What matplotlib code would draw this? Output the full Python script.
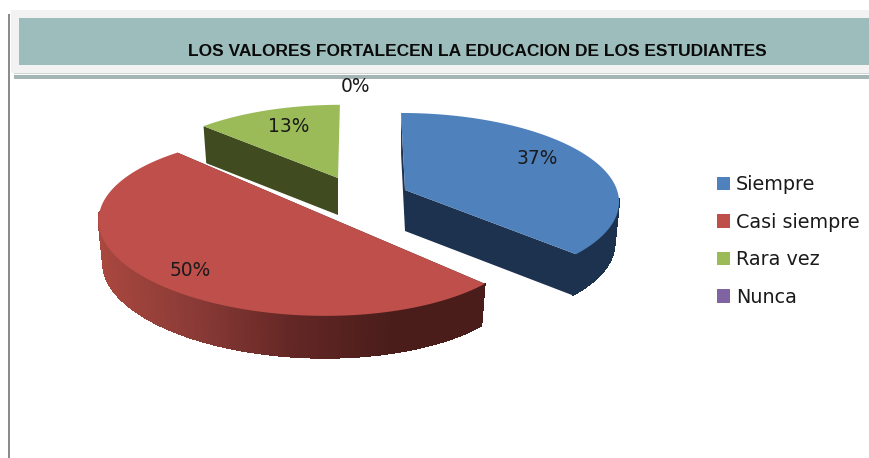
import numpy as np
import matplotlib.pyplot as plt
from matplotlib.collections import PolyCollection
from matplotlib.patches import Patch, Polygon, Rectangle

plt.rcParams['font.family'] = 'DejaVu Sans'

categories = ["Siempre", "Casi siempre", "Rara vez", "Nunca"]
values = [37, 50, 13, 0]
top_colors = ["#4F81BD", "#BE4F4B", "#9BBB59", "#8064A2"]
side_colors = ["#1D324F", "#4A1D1B", "#404B20", "#3F3151"]
title = "LOS VALORES FORTALECEN LA EDUCACION DE LOS ESTUDIANTES"

# pie layout, in pixels: apex x, apex y, size, shear, lean, depth, ry, perspective, bottom scale
layout = {
    0: (405, 190, 1.00, 0.000, -4, 41, 86.2, 0.119, 0.98),
    1: (314, 211, 1.00, 0.030, 4, 42, 88.0, 0.160, 0.98),
    2: (338, 178, 0.95, 0.000, 2, 37, 86.2, 0.119, 0.98),
}
RX = 212


def project(theta, spec, bottom=False):
    cx, cy, size, shear, lean, depth, ry, k, scale = spec
    x = np.cos(theta)
    y = np.sin(theta)
    w = 1 + k * y
    px = size * (RX * x / w + lean * y)
    py = size * ry * y / w - shear * px
    if bottom:
        return cx + scale * px, cy - py + depth
    return cx + px, cy - py


fig = plt.figure(figsize=(8.7, 4.58), dpi=100)
ax = fig.add_axes([0, 0, 1, 1])
ax.set_xlim(0, 870)
ax.set_ylim(458, 0)
ax.axis("off")

# header
ax.add_patch(Rectangle((11, 10), 859, 63, color="#F2F2F2", lw=0))
ax.add_patch(Rectangle((19, 18), 851, 47, color="#9CBDBB", lw=0))
ax.add_patch(Rectangle((14, 73), 856, 1, color="#D0D6D6", lw=0))
ax.add_patch(Rectangle((14, 75), 856, 3.5, color="#A3B5B5", lw=0))
ax.add_patch(Rectangle((8, 14), 2.5, 444, color="#8C8C8C", lw=0))
ax.text(477, 51, title, fontsize=12.55, fontweight="bold", family="Liberation Sans",
        ha="center", va="center", color="#0A0A0A")

# slices, clockwise from the top
total = sum(values)
ends = 90 - 360 * np.cumsum(values) / total
starts = np.r_[90, ends[:-1]]
side_cmap = plt.matplotlib.colors.LinearSegmentedColormap.from_list(
    "redside", ["#A9483F", "#8A3A36", "#632725", "#4A1D1B", "#4A1D1B"])

for i in [2, 0, 1]:
    spec = layout[i]
    t = np.radians(np.linspace(starts[i], ends[i], 240))
    tx, ty = project(t, spec)
    bx, by = project(t, spec, bottom=True)
    cx, cy, depth = spec[0], spec[1], spec[5]

    # cut faces, the green one only shows on its left edge
    faces = [(tx[0], ty[0], bx[0], by[0])]
    if i != 2:
        faces.append((tx[-1], ty[-1], bx[-1], by[-1]))
    for px, py, qx, qy in faces:
        ax.add_patch(Polygon([(cx, cy), (px, py), (qx, qy), (cx, cy + depth)],
                             color=side_colors[i], lw=0, zorder=2 + i * 0.1))

    # outer wall as small quads, front of the pie only
    if i != 2:
        front = [j for j in range(len(t) - 1) if np.sin(t[j]) < -0.1]
        quads = [[(tx[j], ty[j]), (tx[j + 1], ty[j + 1]), (bx[j + 1], by[j + 1]), (bx[j], by[j])]
                 for j in front]
        if i == 1:
            cols = side_cmap(np.clip((tx[front] - 97) / 393, 0, 1))
        else:
            cols = [side_colors[i]] * len(quads)
        ax.add_collection(PolyCollection(quads, facecolors=cols, edgecolors=cols, linewidths=0.5,
                                         antialiaseds=False, zorder=2.5))

    # top face
    ax.add_patch(Polygon(np.r_[[(cx, cy)], np.c_[tx, ty]], color=top_colors[i], lw=0, zorder=3))

# percentage labels
label_pos = [(537, 159), (190, 271), (289, 127), (356, 87)]
for v, (lx, ly) in zip(values, label_pos):
    ax.text(lx, ly, f"{v}%", fontsize=13.4, ha="center", va="center", color="#1A1A1A", zorder=5)

handles = [Patch(facecolor=c, edgecolor="none") for c in top_colors]
ax.legend(handles, categories, loc="upper left", bbox_to_anchor=(717, 175),
          bbox_transform=ax.transData, frameon=False, fontsize=13.8, handlelength=0.7,
          handleheight=0.7, handletextpad=0.3, labelspacing=0.97, borderpad=0,
          borderaxespad=0, labelcolor="#1A1A1A")

fig.savefig("out.png", dpi=100)
